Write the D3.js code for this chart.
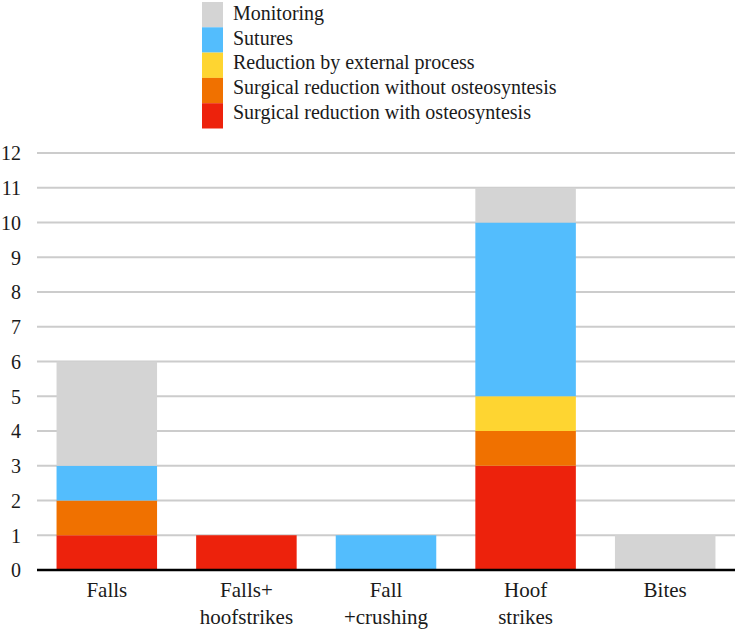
<!DOCTYPE html>
<html>
<head>
<meta charset="utf-8">
<script src="https://cdn.jsdelivr.net/npm/d3@7"></script>
<style>
  body { margin: 0; background: #fff; }
  #chart { position: relative; width: 738px; height: 634px; }
  #chart svg { position: absolute; left: 0; top: 0; }
  .lbl { position: absolute; white-space: nowrap; line-height: 1; color: #1a1a1a;
         font-family: "Liberation Serif", "Times New Roman", serif; }
</style>
</head>
<body>
<div id="chart"></div>
<script>
var categories = [["Falls"], ["Falls+", "hoofstrikes"], ["Fall", "+crushing"], ["Hoof", "strikes"], ["Bites"]];
var seriesNames = ["Surgical reduction with osteosyntesis", "Surgical reduction without osteosyntesis", "Reduction by external process", "Sutures", "Monitoring"];
var withOsteo = [1, 1, 0, 3, 0];
var withoutOsteo = [1, 0, 0, 1, 0];
var externalProcess = [0, 0, 0, 1, 0];
var sutures = [1, 0, 1, 5, 0];
var monitoring = [3, 0, 0, 1, 1];
var yTicks = [0, 1, 2, 3, 4, 5, 6, 7, 8, 9, 10, 11, 12];
var colors = ["#ed220c", "#f07100", "#fed531", "#53bdfd", "#d4d4d4"];

var chart = d3.select("#chart");

// place an html label so that its baseline sits at y
function label(txt, x, y, size, anchor) {
    var shift = anchor === "end" ? "-100%" : (anchor === "middle" ? "-50%" : "0");
    chart.append("div")
        .attr("class", "lbl")
        .style("left", x + "px")
        .style("top", (y - 0.8375 * size) + "px")
        .style("font-size", size + "px")
        .style("transform", "translateX(" + shift + ")")
        .text(txt);
}

function init() {
    var w = 738, h = 634;
    var left = 37, right = 735, top = 153, bottom = 570;

    var svg = chart.append("svg")
        .attr("width", w)
        .attr("height", h);

    var rows = categories.map(function (c, i) {
        return { key: i, s0: withOsteo[i], s1: withoutOsteo[i], s2: externalProcess[i], s3: sutures[i], s4: monitoring[i] };
    });
    var stack = d3.stack().keys(["s0", "s1", "s2", "s3", "s4"])(rows);

    var xScale = d3.scaleBand()
        .domain(d3.range(categories.length))
        .range([left, right])
        .paddingInner(0.28)
        .paddingOuter(0.14);

    var yScale = d3.scaleLinear()
        .domain([0, 12])
        .range([bottom, top]);

    // gridlines
    svg.append("g")
        .selectAll("line")
        .data(yTicks.slice(1))
        .enter()
        .append("line")
        .attr("x1", left)
        .attr("x2", right)
        .attr("y1", function (d) { return yScale(d); })
        .attr("y2", function (d) { return yScale(d); })
        .attr("stroke", "#cccccc")
        .attr("stroke-width", 2);

    // y labels
    yTicks.forEach(function (d) {
        label(d, 21, yScale(d) + 7, 20, "end");
    });

    // bars
    svg.selectAll(".layer")
        .data(stack)
        .enter()
        .append("g")
        .attr("class", "layer")
        .attr("fill", function (d, i) { return colors[i]; })
        .selectAll("rect")
        .data(function (d) { return d.filter(function (p) { return p[1] > p[0]; }); })
        .enter()
        .append("rect")
        .attr("x", function (d) { return xScale(d.data.key); })
        .attr("y", function (d) { return yScale(d[1]); })
        .attr("width", xScale.bandwidth())
        .attr("height", function (d) { return yScale(d[0]) - yScale(d[1]); });

    // baseline
    svg.append("line")
        .attr("x1", left)
        .attr("x2", right)
        .attr("y1", yScale(0))
        .attr("y2", yScale(0))
        .attr("stroke", "#000")
        .attr("stroke-width", 2.5);

    // category labels
    categories.forEach(function (lines, i) {
        lines.forEach(function (line, j) {
            label(line, xScale(i) + xScale.bandwidth() / 2, 598 + j * 27, 21, "middle");
        });
    });

    // legend (top entry is last series)
    var order = [4, 3, 2, 1, 0];
    svg.append("g")
        .attr("transform", "translate(202,2)")
        .selectAll("rect")
        .data(order)
        .enter()
        .append("rect")
        .attr("y", function (d, i) { return i * 25.3; })
        .attr("width", 21)
        .attr("height", 25.3)
        .attr("fill", function (d) { return colors[d]; });
    order.forEach(function (d, i) {
        label(seriesNames[d], 233, 20 + i * 24.6, 20, "start");
    });
}

window.onload = init;
</script>
</body>
</html>
